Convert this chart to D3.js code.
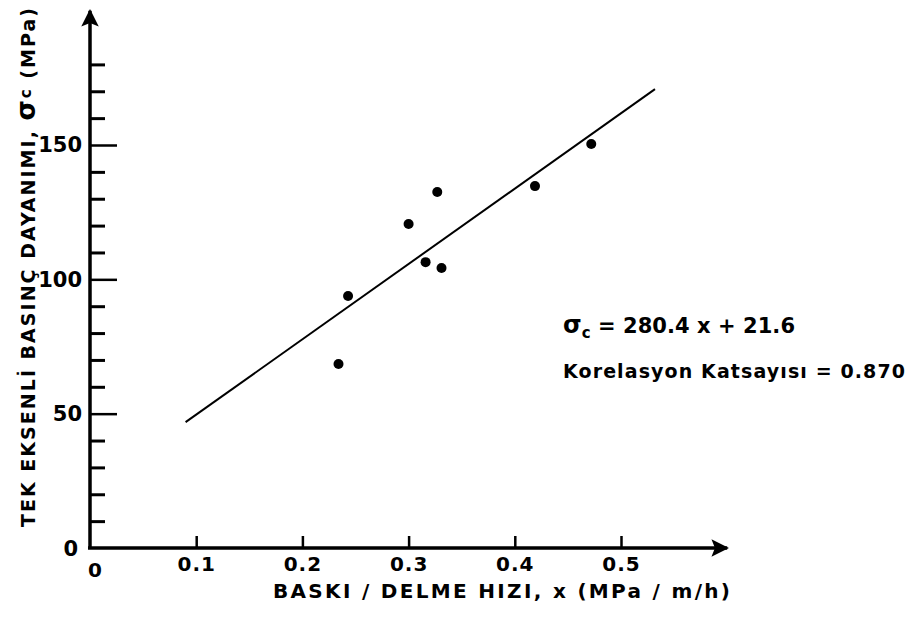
<!DOCTYPE html>
<html>
<head>
<meta charset="utf-8">
<style>
    body { margin: 0; background: #fff; }
    svg text { font-family: "DejaVu Sans", "Liberation Sans", sans-serif; font-weight: bold; fill: #000; }
</style>
</head>
<body>
<svg width="911" height="617" id="chart"></svg>
<script src="https://d3js.org/d3.v7.min.js"></script>
<script>
    // measured points (x = baski/delme hizi, y = sigma_c)
    const xVals = [0.234, 0.243, 0.300, 0.316, 0.327, 0.331, 0.419, 0.472];
    const yVals = [68.5, 93.8, 120.6, 106.4, 132.5, 104.2, 134.7, 150.4];

    // regression sigma_c = 280.4 x + 21.6
    const slope = 280.4;
    const intercept = 21.6;
    const fitRange = [0.09, 0.532];

    const xTicks = [0.1, 0.2, 0.3, 0.4, 0.5];
    const xTickLabels = ["0.1", "0.2", "0.3", "0.4", "0.5"];
    const yMajor = [50, 100, 150];
    const yMinor = [10, 20, 30, 40, 60, 70, 80, 90, 110, 120, 130, 140, 160, 170, 180];
    const xEnd = 0.6;
    const yEnd = 200;

    const svg = d3.select("#chart");

    const x = d3.scaleLinear().domain([0, 0.5]).range([90, 621]);
    const y = d3.scaleLinear().domain([0, 150]).range([548, 145]);

    // arrow heads
    const defs = svg.append("defs");
    defs.append("marker")
        .attr("id", "arrow")
        .attr("viewBox", "0 0 10 10")
        .attr("refX", 9).attr("refY", 5)
        .attr("markerWidth", 7).attr("markerHeight", 5)
        .attr("markerUnits", "strokeWidth")
        .attr("orient", "auto")
        .append("path")
        .attr("d", "M0,0 L10,5 L0,10 L2,5 Z")
        .attr("fill", "#000");

    // y axis: minor ticks, then major ticks with labels on the left
    svg.append("g")
        .attr("transform", "translate(" + x(0) + ",0)")
        .call(d3.axisLeft(y).tickValues(yMinor).tickSize(-15).tickFormat(""))
        .call(g => g.select(".domain").remove())
        .call(g => g.selectAll("line").attr("stroke-width", 3));

    svg.append("g")
        .attr("transform", "translate(" + x(0) + ",0)")
        .call(d3.axisLeft(y).tickValues(yMajor).tickSize(-27).tickPadding(8).tickFormat(d3.format("d")))
        .call(g => g.select(".domain").remove())
        .call(g => g.selectAll("line").attr("stroke-width", 2.5))
        .call(g => g.selectAll("text").attr("font-size", 21).style("font-family", "DejaVu Sans"));

    // x axis: ticks pointing up, labels below
    svg.append("g")
        .attr("transform", "translate(0," + y(0) + ")")
        .call(d3.axisBottom(x).tickValues(xTicks).tickSize(-12).tickPadding(9)
            .tickFormat((d, i) => xTickLabels[i]))
        .call(g => g.select(".domain").remove())
        .call(g => g.selectAll("line").attr("stroke-width", 2.5))
        .call(g => g.selectAll("text").attr("font-size", 20).attr("letter-spacing", 1).style("font-family", "DejaVu Sans"));

    // axis lines with arrows
    svg.append("line")
        .attr("x1", x(0)).attr("y1", y(0))
        .attr("x2", x(0)).attr("y2", y(yEnd))
        .attr("stroke", "#000").attr("stroke-width", 3.5)
        .attr("marker-end", "url(#arrow)");
    svg.append("line")
        .attr("x1", x(0) - 2).attr("y1", y(0))
        .attr("x2", x(xEnd)).attr("y2", y(0))
        .attr("stroke", "#000").attr("stroke-width", 3.5)
        .attr("marker-end", "url(#arrow)");

    // origin labels
    svg.append("text").attr("x", x(0) - 12).attr("y", y(0) + 8)
        .attr("text-anchor", "end").attr("font-size", 21).text("0");
    svg.append("text").attr("x", x(0) + 5).attr("y", y(0) + 29)
        .attr("text-anchor", "middle").attr("font-size", 20).text("0");

    // regression line
    svg.append("line")
        .attr("x1", x(fitRange[0])).attr("y1", y(slope * fitRange[0] + intercept))
        .attr("x2", x(fitRange[1])).attr("y2", y(slope * fitRange[1] + intercept))
        .attr("stroke", "#000").attr("stroke-width", 2);

    // points
    svg.append("g")
        .selectAll("circle")
        .data(xVals)
        .enter().append("circle")
        .attr("cx", d => x(d))
        .attr("cy", (d, i) => y(yVals[i]))
        .attr("r", 5)
        .attr("fill", "#000");

    // axis titles
    svg.append("text")
        .attr("x", 273).attr("y", 598)
        .attr("font-size", 20)
        .attr("textLength", 457).attr("lengthAdjust", "spacing")
        .text("BASKI / DELME  HIZI, x  (MPa / m/h)");

    const yTitle = svg.append("text")
        .attr("transform", "translate(35,527) rotate(-90)")
        .attr("font-size", 19)
        .attr("textLength", 519).attr("lengthAdjust", "spacing");
    yTitle.append("tspan").text("TEK  EKSENLİ  BASINÇ  DAYANIMI,  ");
    yTitle.append("tspan").attr("font-size", 26).text("σ");
    yTitle.append("tspan").attr("font-size", 15).attr("dy", -4).text("c");
    yTitle.append("tspan").attr("dy", 4).text("   (MPa)");

    // equation and correlation
    const eq = svg.append("text")
        .attr("x", 563).attr("y", 333)
        .attr("font-size", 21)
        .attr("textLength", 232).attr("lengthAdjust", "spacing");
    eq.append("tspan").attr("font-size", 24).text("σ");
    eq.append("tspan").attr("font-size", 15).attr("dy", 5).text("c");
    eq.append("tspan").attr("dy", -5).text(" = 280.4  x + 21.6");

    svg.append("text")
        .attr("x", 563).attr("y", 378)
        .attr("font-size", 19)
        .attr("textLength", 342).attr("lengthAdjust", "spacing")
        .text("Korelasyon  Katsayısı = 0.870");
</script>
</body>
</html>
